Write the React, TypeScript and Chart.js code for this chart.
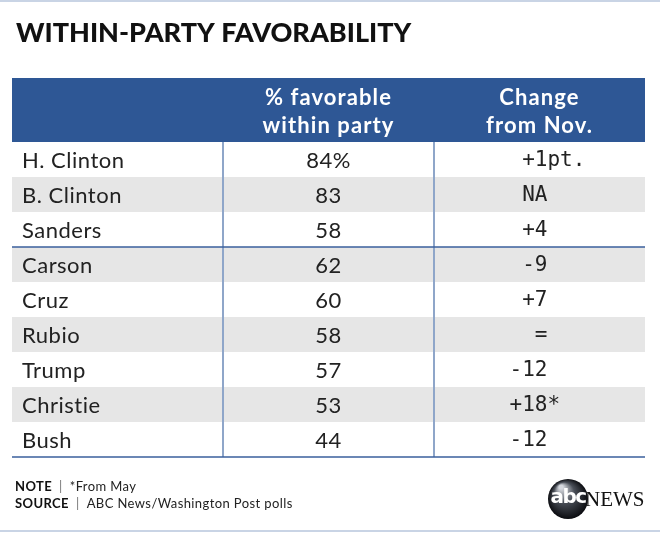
import React, { useEffect, useRef } from 'react';
import { Chart, registerables } from 'chart.js';

Chart.register(...registerables);

const titleText = 'WITHIN-PARTY FAVORABILITY';
const candidates = ['H. Clinton', 'B. Clinton', 'Sanders', 'Carson', 'Cruz', 'Rubio', 'Trump', 'Christie', 'Bush'];
const partyOf = ['D', 'D', 'D', 'R', 'R', 'R', 'R', 'R', 'R'];
const favorable = [84, 83, 58, 62, 60, 58, 57, 53, 44];
const changeFromNov = [' +1pt.', ' NA', ' +4', ' -9', ' +7', '  =', '-12', '+18*', '-12'];
const headerFavorable = ['% favorable', 'within party'];
const headerChange = ['Change', 'from Nov.'];
const noteLabel = 'NOTE';
const noteText = '*From May';
const sourceLabel = 'SOURCE';
const sourceText = 'ABC News/Washington Post polls';

const tablePlugin = {
  id: 'tableCells',
  afterDraw(chart: any) {
    const { ctx, chartArea, scales } = chart;
    const x = scales.x;
    const y = scales.y;
    const { left, right, top, bottom } = chartArea;
    const width = right - left;
    const rowH = Math.abs(y.getPixelForValue(1) - y.getPixelForValue(0));
    const values = chart.data.datasets[0].data as number[];
    ctx.save();

    // outer borders
    ctx.strokeStyle = '#c9d4e5';
    ctx.lineWidth = 2;
    ctx.beginPath();
    ctx.moveTo(0, 1);
    ctx.lineTo(chart.width, 1);
    ctx.moveTo(0, 531);
    ctx.lineTo(chart.width, 531);
    ctx.stroke();

    // title
    ctx.fillStyle = '#111';
    ctx.font = '900 27px Lato';
    ctx.textAlign = 'left';
    ctx.textBaseline = 'alphabetic';
    ctx.fillText(titleText, 16, 42);

    // header band
    ctx.fillStyle = '#2e5795';
    ctx.fillRect(left, 78, width, top - 78);
    ctx.fillStyle = '#ffffff';
    ctx.font = 'bold 22px Lato';
    ctx.letterSpacing = '1.1px';
    ctx.textAlign = 'center';
    ctx.textBaseline = 'alphabetic';
    const c1 = x.getPixelForValue(1.5);
    const c2 = x.getPixelForValue(2.5);
    ctx.fillText(headerFavorable[0], c1, 105);
    ctx.fillText(headerFavorable[1], c1, 133);
    ctx.fillText(headerChange[0], c2, 105);
    ctx.fillText(headerChange[1], c2, 133);
    ctx.letterSpacing = '0px';

    // stripes
    candidates.forEach((_, i) => {
      if (i % 2 === 1) {
        const yc = y.getPixelForValue(i);
        ctx.fillStyle = '#e6e6e6';
        ctx.fillRect(left, yc - rowH / 2, width, rowH);
      }
    });

    // column dividers
    ctx.strokeStyle = '#8fa6c9';
    ctx.lineWidth = 2;
    [1, 2].forEach((v) => {
      const px = Math.round(x.getPixelForValue(v));
      ctx.beginPath();
      ctx.moveTo(px, top);
      ctx.lineTo(px, bottom);
      ctx.stroke();
    });

    // group separators & bottom line
    ctx.strokeStyle = '#3a5f9c';
    ctx.lineWidth = 1.5;
    candidates.forEach((_, i) => {
      if (i > 0 && partyOf[i] !== partyOf[i - 1]) {
        const yy = y.getPixelForValue(i) - rowH / 2;
        ctx.beginPath();
        ctx.moveTo(left, yy);
        ctx.lineTo(right, yy);
        ctx.stroke();
      }
    });
    ctx.beginPath();
    ctx.moveTo(left, bottom);
    ctx.lineTo(right, bottom);
    ctx.stroke();

    // cells
    ctx.textBaseline = 'middle';
    candidates.forEach((name, i) => {
      const yc = y.getPixelForValue(i) + 1;
      ctx.fillStyle = '#222';
      ctx.font = '22px Lato';
      ctx.letterSpacing = '0.5px';
      ctx.textAlign = 'left';
      ctx.fillText(name, left + 10, yc);
      ctx.textAlign = 'center';
      ctx.fillText(i === 0 ? `${values[i]}%` : `${values[i]}`, c1, yc);
      ctx.letterSpacing = '0px';
      ctx.font = '21px "DejaVu Sans Mono"';
      ctx.textAlign = 'left';
      ctx.fillText(changeFromNov[i], c2 - 30, yc);
    });

    // footer
    ctx.textBaseline = 'alphabetic';
    ctx.textAlign = 'left';
    const drawFoot = (label: string, text: string, yb: number) => {
      ctx.font = 'bold 13px Lato';
      ctx.letterSpacing = '0.4px';
      ctx.fillStyle = '#111';
      ctx.fillText(label, 15, yb);
      let xx = 15 + ctx.measureText(label).width + 7;
      ctx.font = '13px Lato';
      ctx.fillStyle = '#777';
      ctx.fillText('|', xx, yb);
      xx += ctx.measureText('|').width + 7;
      ctx.fillStyle = '#222';
      ctx.fillText(text, xx, yb);
      ctx.letterSpacing = '0px';
    };
    drawFoot(noteLabel, noteText, 491);
    drawFoot(sourceLabel, sourceText, 508);

    // logo
    const lx = 568;
    const ly = 499;
    const r = 20;
    const g = ctx.createRadialGradient(lx - 7, ly - 12, 2, lx, ly, r);
    g.addColorStop(0, '#d5d8de');
    g.addColorStop(0.45, '#4a4f58');
    g.addColorStop(1, '#0b0c10');
    ctx.fillStyle = g;
    ctx.beginPath();
    ctx.arc(lx, ly, r, 0, Math.PI * 2);
    ctx.fill();
    ctx.fillStyle = '#ffffff';
    ctx.font = 'bold 20px "DejaVu Sans"';
    ctx.letterSpacing = '-1.5px';
    ctx.textAlign = 'center';
    ctx.textBaseline = 'middle';
    ctx.fillText('abc', lx, ly - 1);
    ctx.letterSpacing = '0px';
    ctx.fillStyle = '#111';
    ctx.font = '21px "Liberation Serif"';
    ctx.textAlign = 'left';
    ctx.textBaseline = 'alphabetic';
    ctx.fillText('NEWS', 585, 506);

    ctx.restore();
  },
};

export default function App() {
  const canvasRef = useRef<HTMLCanvasElement>(null);
  useEffect(() => {
    document.body.style.margin = '0';
    const canvas = canvasRef.current;
    if (!canvas) return;
    const chart = new Chart(canvas, {
      type: 'bar',
      data: {
        labels: candidates,
        datasets: [
          {
            label: '% favorable within party',
            data: favorable,
            hidden: true,
          },
        ],
      },
      options: {
        indexAxis: 'y',
        animation: false,
        responsive: false,
        maintainAspectRatio: false,
        events: [],
        layout: { padding: { left: 12, right: 15, top: 142, bottom: 76 } },
        scales: {
          x: { type: 'linear', min: 0, max: 3, display: false },
          y: { type: 'category', display: false, offset: true },
        },
        plugins: { legend: { display: false }, tooltip: { enabled: false }, title: { display: false } },
      },
      plugins: [tablePlugin],
    } as any);
    return () => chart.destroy();
  }, []);
  return (
    <div style={{ width: 660, height: 533, background: '#fff' }}>
      <canvas ref={canvasRef} width={660} height={533} />
    </div>
  );
}
